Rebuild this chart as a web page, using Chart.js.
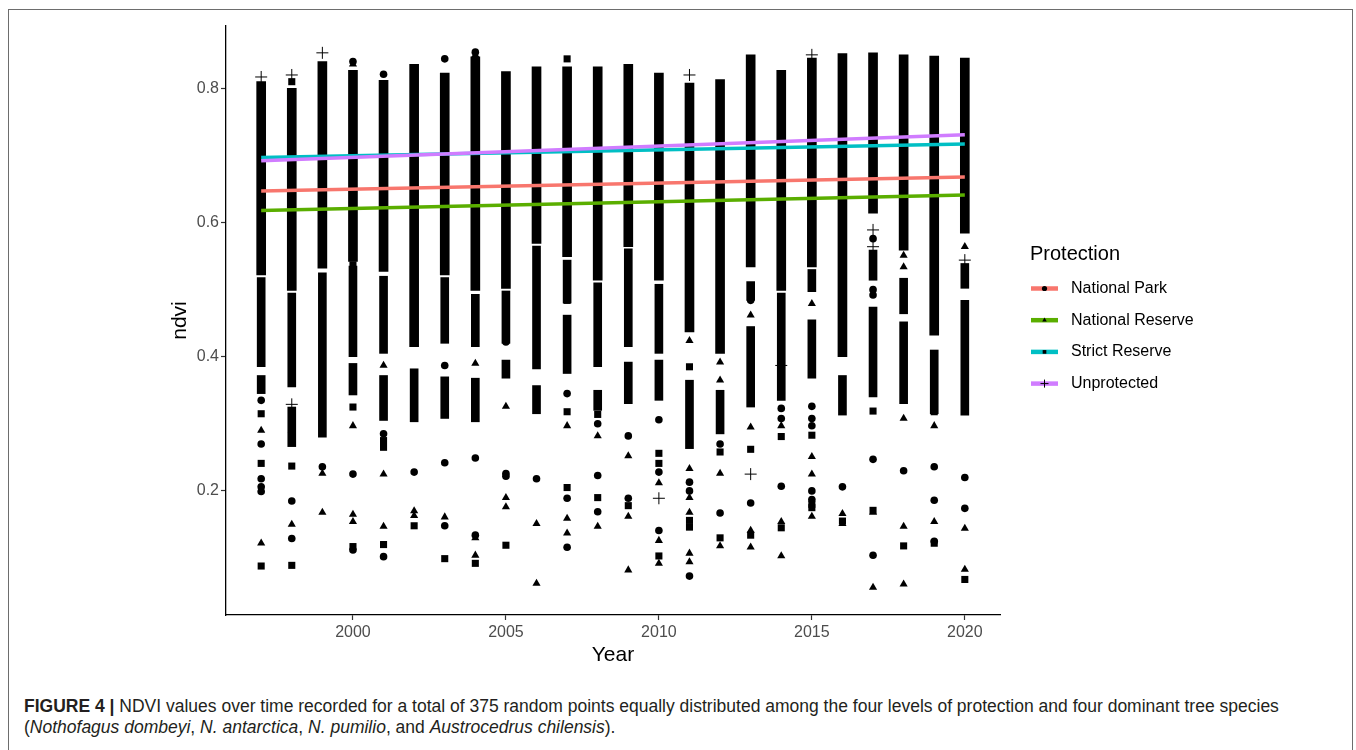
<!DOCTYPE html>
<html>
<head>
<meta charset="utf-8">
<script src="https://cdn.jsdelivr.net/npm/chart.js@4/dist/chart.umd.min.js"></script>
<style>
  html, body { margin: 0; padding: 0; background: #fff; }
  body { width: 1356px; height: 750px; position: relative; overflow: hidden; font-family: 'Liberation Sans', Arial, sans-serif; }
  #marco { position: absolute; left: 8px; top: 9px; width: 1343px; height: 760px; border: 1px solid #6d6d6d; }
  #contenedor { position: absolute; left: 0; top: 0; width: 1356px; height: 680px; }
  #leyenda-fig { position: absolute; left: 24px; top: 696px; font-size: 17.5px; line-height: 21px; color: #231f20; white-space: nowrap; }
</style>
</head>
<body>
<div id="marco"></div>
<div id="contenedor"><canvas id="grafico" width="1356" height="680"></canvas></div>
<div id="leyenda-fig"><b>FIGURE 4 |</b> NDVI values over time recorded for a total of 375 random points equally distributed among the four levels of protection and four dominant tree species<br>(<i>Nothofagus dombeyi</i>, <i>N. antarctica</i>, <i>N. pumilio</i>, and <i>Austrocedrus chilensis</i>).</div>
<script>
// datos
const years = [1997, 1998, 1999, 2000, 2001, 2002, 2003, 2004, 2005, 2006, 2007, 2008,
               2009, 2010, 2011, 2012, 2013, 2014, 2015, 2016, 2017, 2018, 2019, 2020];

// tramo continuo (puntos solapados) por año
const bandHigh = [0.810, 0.800, 0.840, 0.827, 0.812, 0.836, 0.823, 0.847, 0.825, 0.832, 0.832, 0.832,
                  0.836, 0.823, 0.808, 0.813, 0.850, 0.827, 0.845, 0.852, 0.853, 0.850, 0.848, 0.845];
const bandLow  = [0.522, 0.499, 0.532, 0.542, 0.527, 0.415, 0.522, 0.499, 0.502, 0.569, 0.549, 0.514,
                  0.564, 0.514, 0.437, 0.405, 0.534, 0.499, 0.534, 0.400, 0.614, 0.559, 0.432, 0.584];

// tramos casi continuos por debajo
const semiAHigh = [0.518, 0.495, 0.525, 0.535, 0.520, 0.382, 0.518, 0.493, 0.498, 0.565, 0.544, 0.510,
                   0.561, 0.508, 0.365, 0.350, 0.512, 0.495, 0.530, 0.372, 0.559, 0.517, 0.410, 0.539];
const semiALow  = [0.385, 0.355, 0.280, 0.400, 0.405, 0.303, 0.420, 0.415, 0.420, 0.382, 0.480, 0.385,
                   0.415, 0.405, 0.263, 0.285, 0.484, 0.335, 0.497, 0.313, 0.514, 0.464, 0.315, 0.502];
const semiBHigh = [0.372, 0.325, null, 0.390, 0.372, null, 0.370, 0.368, 0.395, 0.357, 0.462, 0.350,
                   0.392, 0.395, null, null, 0.445, null, 0.455, null, 0.474, 0.452, null, 0.484];
const semiBLow  = [0.345, 0.266, null, 0.343, 0.305, null, 0.308, 0.303, 0.368, 0.315, 0.375, 0.320,
                   0.330, 0.335, null, null, 0.325, null, 0.368, null, 0.340, 0.330, null, 0.313];

// puntos sueltos [año, ndvi]
const circlePts = [
  [1997, 0.335], [1997, 0.270], [1997, 0.218], [1997, 0.206], [1997, 0.199],
  [1998, 0.300], [1998, 0.185], [1998, 0.129],
  [1999, 0.236],
  [2000, 0.840], [2000, 0.225], [2000, 0.112],
  [2001, 0.821], [2001, 0.285], [2001, 0.102],
  [2002, 0.228],
  [2003, 0.844], [2003, 0.387], [2003, 0.242], [2003, 0.148],
  [2004, 0.854], [2004, 0.249], [2004, 0.134],
  [2005, 0.422], [2005, 0.226], [2005, 0.222],
  [2006, 0.218],
  [2007, 0.345], [2007, 0.189], [2007, 0.116],
  [2008, 0.300], [2008, 0.223], [2008, 0.169],
  [2009, 0.282], [2009, 0.189],
  [2010, 0.306], [2010, 0.228], [2010, 0.141],
  [2011, 0.213], [2011, 0.200], [2011, 0.073],
  [2012, 0.270], [2012, 0.167],
  [2013, 0.484], [2013, 0.182],
  [2014, 0.323], [2014, 0.308], [2014, 0.207],
  [2015, 0.326], [2015, 0.308], [2015, 0.297], [2015, 0.200], [2015, 0.187],
  [2016, 0.206],
  [2017, 0.576], [2017, 0.500], [2017, 0.492], [2017, 0.247], [2017, 0.104],
  [2018, 0.230],
  [2019, 0.236], [2019, 0.186], [2019, 0.125],
  [2020, 0.220], [2020, 0.174]
];
const trianglePts = [
  [1997, 0.290], [1997, 0.122],
  [1998, 0.290], [1998, 0.150],
  [1999, 0.226], [1999, 0.168],
  [2000, 0.836], [2000, 0.297], [2000, 0.165], [2000, 0.154],
  [2001, 0.387], [2001, 0.225], [2001, 0.147],
  [2002, 0.170], [2002, 0.163],
  [2003, 0.161],
  [2004, 0.850], [2004, 0.390], [2004, 0.130], [2004, 0.104],
  [2005, 0.326], [2005, 0.190], [2005, 0.176],
  [2006, 0.151], [2006, 0.062],
  [2007, 0.297], [2007, 0.159], [2007, 0.137],
  [2008, 0.282], [2008, 0.147],
  [2009, 0.252], [2009, 0.162], [2009, 0.082],
  [2010, 0.212], [2010, 0.126], [2010, 0.092],
  [2011, 0.424], [2011, 0.233], [2011, 0.190], [2011, 0.168], [2011, 0.107], [2011, 0.094],
  [2012, 0.392], [2012, 0.365], [2012, 0.226], [2012, 0.118],
  [2013, 0.462], [2013, 0.295], [2013, 0.141], [2013, 0.116],
  [2014, 0.297], [2014, 0.154], [2014, 0.103],
  [2015, 0.479], [2015, 0.251], [2015, 0.225], [2015, 0.162],
  [2016, 0.166], [2016, 0.151],
  [2017, 0.168], [2017, 0.056],
  [2018, 0.551], [2018, 0.534], [2018, 0.308], [2018, 0.147], [2018, 0.061],
  [2019, 0.297], [2019, 0.154],
  [2020, 0.564], [2020, 0.144], [2020, 0.083]
];
const squarePts = [
  [1997, 0.315], [1997, 0.241], [1997, 0.088],
  [1998, 0.810], [1998, 0.237], [1998, 0.089],
  [2000, 0.537], [2000, 0.325], [2000, 0.117],
  [2001, 0.275], [2001, 0.265], [2001, 0.120],
  [2002, 0.148],
  [2003, 0.099],
  [2004, 0.092],
  [2005, 0.119],
  [2007, 0.844], [2007, 0.484], [2007, 0.318], [2007, 0.205],
  [2008, 0.314], [2008, 0.190],
  [2009, 0.178],
  [2010, 0.256], [2010, 0.241], [2010, 0.103],
  [2011, 0.385], [2011, 0.156], [2011, 0.146],
  [2012, 0.258], [2012, 0.130],
  [2013, 0.262], [2013, 0.134],
  [2014, 0.281], [2014, 0.145],
  [2015, 0.283], [2015, 0.180], [2015, 0.175],
  [2016, 0.155],
  [2017, 0.319], [2017, 0.171],
  [2018, 0.118],
  [2019, 0.330], [2019, 0.318], [2019, 0.122],
  [2020, 0.068]
];
const plusPts = [
  [1997, 0.817], [1998, 0.820], [1998, 0.329], [1999, 0.853], [2010, 0.189], [2011, 0.820],
  [2013, 0.225], [2014, 0.387], [2015, 0.850], [2017, 0.589], [2017, 0.564], [2020, 0.544]
];

// rectas de tendencia por nivel de protección (1997 -> 2020)
const protections = ['National Park', 'National Reserve', 'Strict Reserve', 'Unprotected'];
const trendStart = [0.647, 0.618, 0.697, 0.692];
const trendEnd   = [0.668, 0.641, 0.717, 0.731];
const lineColors = ['#F8766D', '#5AAE00', '#00BFC4', '#D07CFF'];
const keyShapes  = ['circle', 'triangle', 'rect', 'cross'];

const xTicks = [2000, 2005, 2010, 2015, 2020];
const yTicks = [0.2, 0.4, 0.6, 0.8];

Chart.defaults.font.family = "'Liberation Sans', Arial, sans-serif";

function puntos(lista) {
  return lista.map(p => ({ x: p[0], y: p[1] }));
}

function tramos(lo, hi) {
  const out = [];
  years.forEach((yr, i) => {
    if (lo[i] !== null && hi[i] !== null) out.push({ x: yr, y: [lo[i], hi[i]] });
  });
  return out;
}

function marcador(ctx, estilo, r, x, y) {
  ctx.fillStyle = '#000';
  ctx.strokeStyle = '#000';
  ctx.lineWidth = 1;
  if (Chart.helpers && Chart.helpers.drawPoint) {
    Chart.helpers.drawPoint(ctx, { pointStyle: estilo, radius: r, rotation: 0, borderWidth: estilo === 'cross' ? 1 : 0 }, x, y);
  } else {
    ctx.beginPath(); ctx.arc(x, y, r, 0, Math.PI * 2); ctx.fill();
  }
}

// leyenda al estilo ggplot
const leyenda = {
  id: 'leyenda',
  afterDraw(chart) {
    const ctx = chart.ctx;
    ctx.save();
    ctx.textBaseline = 'middle';
    ctx.textAlign = 'left';
    ctx.fillStyle = '#000';
    ctx.font = "20px 'Liberation Sans', Arial, sans-serif";
    ctx.fillText('Protection', 1030, 254);
    protections.forEach((nombre, i) => {
      const y = 288.5 + i * 31.7;
      ctx.strokeStyle = lineColors[i];
      ctx.lineWidth = 4.5;
      ctx.beginPath();
      ctx.moveTo(1031, y);
      ctx.lineTo(1058, y);
      ctx.stroke();
      marcador(ctx, keyShapes[i], keyShapes[i] === 'cross' ? 4 : 2.6, 1044.5, y);
      ctx.fillStyle = '#000';
      ctx.font = "16px 'Liberation Sans', Arial, sans-serif";
      ctx.fillText(nombre, 1071, y);
    });
    ctx.restore();
  }
};

const datasets = [];

protections.forEach((nombre, i) => {
  datasets.push({
    type: 'line',
    label: nombre,
    data: [{ x: years[0], y: trendStart[i] }, { x: years[years.length - 1], y: trendEnd[i] }],
    borderColor: lineColors[i],
    borderWidth: 3.5,
    pointRadius: 0,
    fill: false,
    order: 4 - i
  });
});

datasets.push(
  { type: 'scatter', label: 'circle', data: puntos(circlePts), pointStyle: 'circle', pointRadius: 3.8,
    backgroundColor: '#000', borderWidth: 0, order: 10 },
  { type: 'scatter', label: 'triangle', data: puntos(trianglePts), pointStyle: 'triangle', pointRadius: 4.7,
    backgroundColor: '#000', borderWidth: 0, order: 10 },
  { type: 'scatter', label: 'square', data: puntos(squarePts), pointStyle: 'rect', pointRadius: 5,
    backgroundColor: '#000', borderWidth: 0, order: 10 },
  { type: 'scatter', label: 'plus', data: puntos(plusPts), pointStyle: 'cross', pointRadius: 6,
    borderColor: '#000', borderWidth: 1, order: 10 },
  { type: 'bar', label: 'band', data: tramos(bandLow, bandHigh), backgroundColor: '#000',
    barThickness: 9, grouped: false, order: 20 },
  { type: 'bar', label: 'semiA', data: tramos(semiALow, semiAHigh), backgroundColor: '#000',
    barThickness: 8, grouped: false, order: 20 },
  { type: 'bar', label: 'semiB', data: tramos(semiBLow, semiBHigh), backgroundColor: '#000',
    barThickness: 8, grouped: false, order: 20 }
);

const ctx = document.getElementById('grafico').getContext('2d');
new Chart(ctx, {
  type: 'scatter',
  data: { datasets: datasets },
  plugins: [leyenda],
  options: {
    responsive: false,
    animation: false,
    layout: { padding: { left: 164, right: 356, top: 26, bottom: 8 } },
    plugins: { legend: { display: false }, tooltip: { enabled: false } },
    scales: {
      x: {
        type: 'linear',
        min: 1995.85,
        max: 2021.15,
        offset: false,
        afterBuildTicks: s => { s.ticks = xTicks.map(v => ({ value: v })); },
        afterFit: s => { s.height = 57; },
        ticks: { callback: v => String(v), color: '#4d4d4d', font: { size: 16 }, padding: 3, maxRotation: 0, autoSkip: false },
        grid: { offset: false, drawOnChartArea: false, drawTicks: true, tickLength: 5, color: '#333333', tickWidth: 1.2 },
        border: { display: true, color: '#000', width: 1.3 },
        title: { display: true, text: 'Year', color: '#000', font: { size: 21 }, padding: { top: 0, bottom: 4 } }
      },
      y: {
        type: 'linear',
        min: 0.015,
        max: 0.893,
        afterBuildTicks: s => { s.ticks = yTicks.map(v => ({ value: v })); },
        afterFit: s => { s.width = 62; },
        ticks: { callback: v => v.toFixed(1), color: '#4d4d4d', font: { size: 16 }, padding: 2 },
        grid: { offset: false, drawOnChartArea: false, drawTicks: true, tickLength: 5, color: '#333333', tickWidth: 1.2 },
        border: { display: true, color: '#000', width: 1.3 },
        title: { display: true, text: 'ndvi', color: '#000', font: { size: 21 }, padding: { top: 4, bottom: 0 } }
      }
    }
  }
});
</script>
</body>
</html>
